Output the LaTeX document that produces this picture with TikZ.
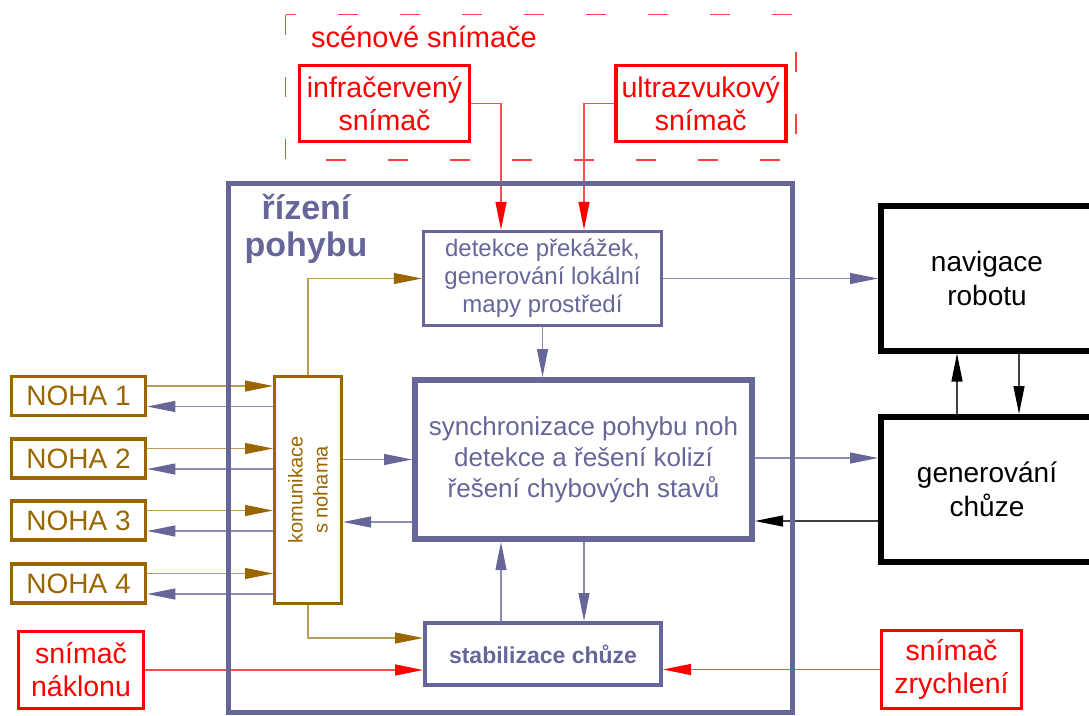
\documentclass[tikz,border=0pt]{standalone}
\usepackage{fontspec}
\setmainfont{Liberation Sans}
\usetikzlibrary{arrows.meta,calc}
\definecolor{slate}{RGB}{102,102,153}
\definecolor{brn}{RGB}{153,102,0}
\definecolor{rd}{RGB}{255,0,0}
\newcommand{\fsz}[2]{\fontsize{#1}{#2}\selectfont}
\begin{document}
\begin{tikzpicture}[x=1pt,y=-1pt,
  tipC/.style={-{Triangle[length=28pt,width=11pt,color=#1]}},
  box/.style={draw, fill=white, inner sep=0pt, align=center},
  redbox/.style={box, draw=rd, line width=3.5pt, text=rd, font=\fsz{28.5}{33}},
  nohabox/.style={box, draw=brn, line width=3.5pt, text=brn, font=\fsz{28}{30},
    minimum width=134pt, minimum height=39pt},
  slatebox/.style={box, draw=slate, text=slate},
  blackbox/.style={box, draw=black, line width=6pt, font=\fsz{28}{34},
    minimum width=212pt, minimum height=145pt},
  redline/.style={tipC=rd, draw=rd!70, line width=1.2pt},
  blueline/.style={tipC=slate, draw=slate!75, line width=1.1pt},
  brownline/.style={tipC=brn, draw=brn!65, line width=1.1pt},
  blackline/.style={tipC=black, draw=black!75, line width=1.1pt},
]
\useasboundingbox (0,0) rectangle (1089,715);

% scene sensors group
\draw[rd!75, line width=1.1pt, dash pattern=on 20pt off 42pt] (285.5,14.5) rectangle (796,160);
\node[text=rd, font=\fsz{29}{34}, anchor=west, inner sep=0pt] (scen) at (311,37) {scénové snímače};
\node[redbox, minimum width=170pt, minimum height=76pt] (ir) at (384.5,103.5) {infračervený\\snímač};
\node[redbox, minimum width=170pt, minimum height=76pt] (us) at (700.8,103.5) {ultrazvukový\\snímač};

% inner blocks
\node[slatebox, line width=3.5pt, font=\fsz{24}{28}, minimum width=238pt, minimum height=94pt] (det) at (542.5,278.5)
  {detekce překážek,\\generování lokální\\mapy prostředí};
\node[slatebox, line width=6pt, font=\fsz{26}{31}, minimum width=337pt, minimum height=159pt] (sync) at (583.5,459.5)
  {synchronizace pohybu noh\\detekce a řešení kolizí\\řešení chybových stavů};
\node[slatebox, line width=4pt, font=\fsz{23}{28}\bfseries, minimum width=236pt, minimum height=62pt] (stab) at (543,654)
  {stabilizace chůze};
\node[box, draw=brn, line width=3pt, text=brn, minimum width=67pt, minimum height=227pt] (kom) at (308,490) {};
\node[text=brn, font=\fsz{20}{25}, align=center, rotate=90, inner sep=0pt] (komt) at (308,490) {komunikace\\s nohama};

% legs
\node[nohabox] (n1) at (78.5,396) {NOHA 1};
\node[nohabox] (n2) at (78.5,458.5) {NOHA 2};
\node[nohabox] (n3) at (78.5,520.5) {NOHA 3};
\node[nohabox] (n4) at (78.5,583.5) {NOHA 4};

% right blocks
\node[blackbox] (nav) at (987,278) {navigace\\robotu};
\node[blackbox] (gen) at (987,489.5) {generování\\chůze};

% bottom sensors
\node[redbox, minimum width=125pt, minimum height=77pt] (nak) at (81,670) {snímač\\náklonu};
\node[redbox, minimum width=140pt, minimum height=78pt] (zr) at (951.5,669.5) {snímač\\zrychlení};

% connectors: sensors
\draw[redline] (ir.east) -| ([xshift=-41.5pt]det.north);
\draw[redline] (us.west) -| ([xshift=41.5pt]det.north);
\draw[redline] (nak.east) -- (nak.east -| stab.west);
\draw[redline] (zr.west) -- (zr.west -| stab.east);

% det / sync / stab
\draw[blueline] (det.east) -- (det.east -| nav.west);
\draw[blueline] (det.south) -- (det.south |- sync.north);
\draw[blueline] ([yshift=1.5pt]sync.east) -- ([yshift=1.5pt]sync.east -| gen.west);
\draw[blackline] ([yshift=-31.5pt]gen.west) -- ([yshift=-31.5pt]gen.west -| sync.east);
\draw[blackline] ([xshift=-30pt]gen.north) -- ([xshift=-30pt]nav.south);
\draw[blackline] ([xshift=32pt]nav.south) -- ([xshift=32pt]gen.north);
\draw[blueline] ([xshift=-42pt]stab.north) -- ([xshift=-42pt]stab.north |- sync.south);
\draw[blueline] ([xshift=41pt]stab.north |- sync.south) -- ([xshift=41pt]stab.north);

% komunikace
\draw[blueline] (kom.east |- sync.west) -- (sync.west);
\draw[blueline] ([yshift=-62.5pt]sync.west) -- ([yshift=-62.5pt]sync.west -| kom.east);
\draw[brownline] (kom.north) |- (det.west);
\draw[brownline] (kom.south) |- ([yshift=16pt]stab.west);

% legs <-> komunikace
\foreach \n in {n1,n2,n3,n4}{
  \draw[brownline] ([yshift=10pt]\n.east) -- ([yshift=10pt]\n.east -| kom.west);
  \draw[blueline] ([yshift=-10.5pt]\n.east -| kom.west) -- ([yshift=-10.5pt]\n.east);
}

% main control box
\draw[slate, line width=5pt] (228,183) rectangle (792,712.5);
\node[text=slate, font=\fsz{34}{37}\bfseries, align=center, inner sep=0pt] (riz) at (306,229) {řízení\\pohybu};
\end{tikzpicture}
\end{document}
